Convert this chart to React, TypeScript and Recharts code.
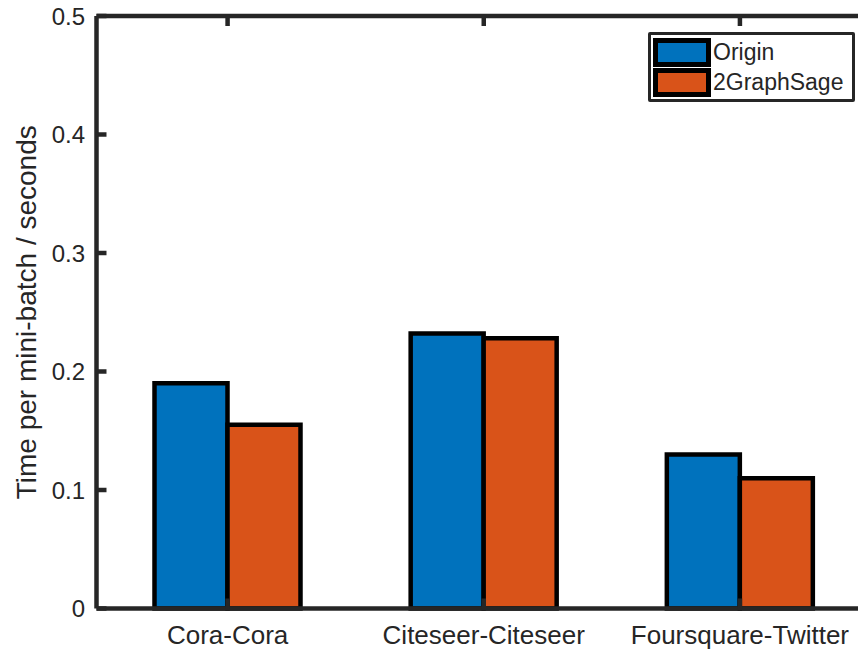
import { BarChart, Bar, XAxis, YAxis, Legend } from 'recharts'

const categories = ['Cora-Cora', 'Citeseer-Citeseer', 'Foursquare-Twitter']
const originTimes = [0.19, 0.232, 0.13]
const graphSageTimes = [0.155, 0.228, 0.11]
const yTicks = [0, 0.1, 0.2, 0.3, 0.4, 0.5]

const seriesNames = { origin: 'Origin', graphSage: '2GraphSage' }
const legendOrder = [seriesNames.origin, seriesNames.graphSage]
const FONT = '"Liberation Sans", Arial, Helvetica, sans-serif'
const AXIS = '#262626'

const data = categories.map((name, i) => ({
  name,
  origin: originTimes[i],
  graphSage: graphSageTimes[i],
}))

// MATLAB-style boxed legend with thick outlined swatches
const LegendBox = ({ payload }: any) => {
  const items = [...(payload || [])].sort(
    (a: any, b: any) => legendOrder.indexOf(a.value) - legendOrder.indexOf(b.value)
  )
  return (
    <div
      style={{
        boxSizing: 'border-box',
        width: 207,
        height: 70,
        border: `3px solid ${AXIS}`,
        borderRadius: 2,
        background: '#fff',
        padding: '2px 0 0 2px',
        fontFamily: FONT,
        fontSize: 23,
        color: AXIS,
      }}
    >
      {items.map((p: any) => (
        <div key={p.value} style={{ display: 'flex', alignItems: 'center', height: 30 }}>
          <span
            style={{
              boxSizing: 'border-box',
              width: 58,
              height: 29,
              border: '5px solid #000',
              background: p.color,
              marginRight: 2,
            }}
          />
          <span style={{ lineHeight: '29px' }}>{p.value}</span>
        </div>
      ))}
    </div>
  )
}

export default function App() {
  return (
    <div
      style={{
        position: 'fixed',
        left: 0,
        top: 0,
        width: 858,
        height: 650,
        overflow: 'hidden',
        background: '#fff',
      }}
    >
      <BarChart
        width={868}
        height={650}
        data={data}
        margin={{ top: 15, right: 0, bottom: 0, left: 0 }}
        barCategoryGap={55}
        barGap={0}
      >
        <XAxis
          dataKey="name"
          height={41.5}
          padding={{ left: 3, right: 0 }}
          tickSize={-10}
          tickMargin={27}
          tick={{ fill: AXIS, fontSize: 26, fontFamily: FONT }}
          axisLine={{ stroke: AXIS, strokeWidth: 4.5 }}
          tickLine={{ stroke: AXIS, strokeWidth: 4.5 }}
        />
        <XAxis
          xAxisId="top"
          dataKey="name"
          orientation="top"
          height={1}
          padding={{ left: 3, right: 0 }}
          tickSize={-10}
          tickFormatter={() => ''}
          axisLine={{ stroke: AXIS, strokeWidth: 4.5 }}
          tickLine={{ stroke: AXIS, strokeWidth: 4.5 }}
        />
        <YAxis
          width={96.5}
          domain={[0, 0.5]}
          ticks={yTicks}
          interval={0}
          tickSize={-10}
          tickMargin={21.5}
          tickFormatter={(v: number) => (v === 0 ? '0' : v.toFixed(1))}
          tick={{ fill: AXIS, fontSize: 24, fontFamily: FONT }}
          axisLine={{ stroke: AXIS, strokeWidth: 4.5 }}
          tickLine={{ stroke: AXIS, strokeWidth: 4.5 }}
          label={{
            value: 'Time per mini-batch / seconds',
            angle: -90,
            position: 'insideLeft',
            offset: 26,
            style: { textAnchor: 'middle', fill: AXIS, fontSize: 28, fontFamily: FONT },
          }}
        />
        <Legend
          layout="horizontal"
          verticalAlign="middle"
          align="center"
          wrapperStyle={{ left: 648, top: 32, width: 207, height: 70 }}
          content={<LegendBox />}
        />
        <Bar
          dataKey="origin"
          name={seriesNames.origin}
          fill="#0072BD"
          stroke="#000"
          strokeWidth={4.5}
          isAnimationActive={false}
        />
        <Bar
          dataKey="graphSage"
          name={seriesNames.graphSage}
          fill="#D95319"
          stroke="#000"
          strokeWidth={4.5}
          isAnimationActive={false}
        />
      </BarChart>
    </div>
  )
}
